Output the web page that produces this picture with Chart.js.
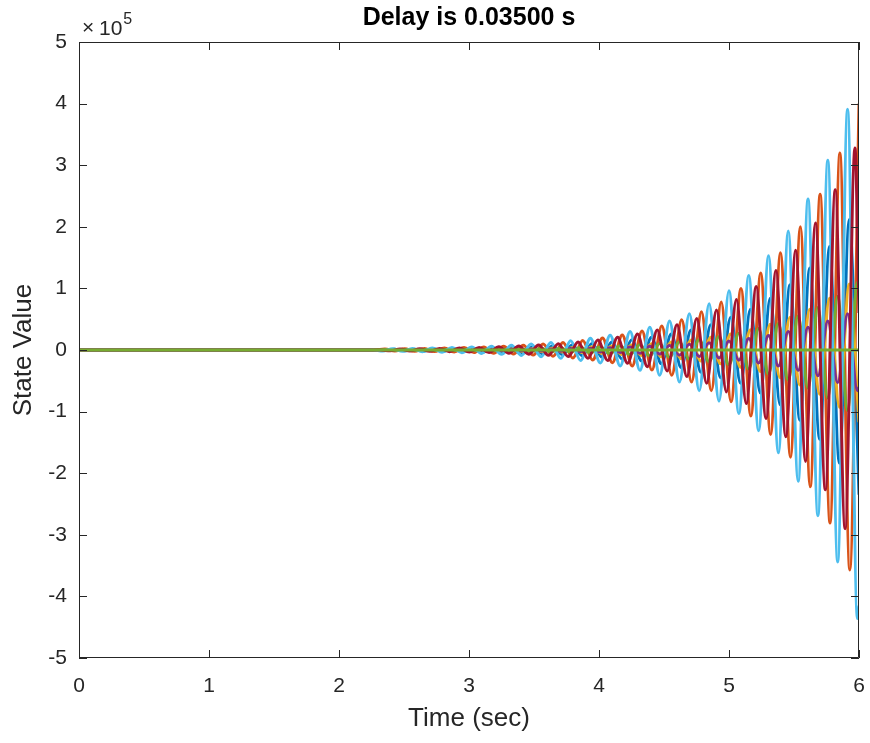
<!DOCTYPE html>
<html>
<head>
<meta charset="utf-8">
<script src="https://cdn.jsdelivr.net/npm/chart.js@4.4.1/dist/chart.umd.min.js"></script>
<style>
  html, body { margin: 0; padding: 0; background: #fff; }
</style>
</head>
<body>
<canvas id="stateChart" width="870" height="743"></canvas>
<script>
// values are in units of 1e5 (axis shows x10^5)
// extrema times, one time list per phase group
const tA = [0, 2.261, 2.337, 2.413, 2.489, 2.565, 2.641, 2.717, 2.793, 2.869, 2.945, 3.021, 3.097, 3.173, 3.250, 3.326, 3.402, 3.478, 3.554, 3.630, 3.706, 3.782, 3.858, 3.934, 4.010, 4.086, 4.163, 4.239, 4.315, 4.391, 4.467, 4.543, 4.619, 4.695, 4.771, 4.847, 4.923, 5.000, 5.076, 5.152, 5.228, 5.304, 5.380, 5.456, 5.532, 5.608, 5.684, 5.760, 5.836, 5.912, 5.988, 6.0];
const tB = [0, 2.274, 2.350, 2.426, 2.502, 2.578, 2.654, 2.730, 2.806, 2.882, 2.958, 3.034, 3.110, 3.186, 3.263, 3.339, 3.415, 3.491, 3.567, 3.643, 3.719, 3.795, 3.871, 3.947, 4.023, 4.099, 4.176, 4.252, 4.328, 4.404, 4.480, 4.556, 4.632, 4.708, 4.784, 4.860, 4.936, 5.013, 5.089, 5.165, 5.241, 5.317, 5.393, 5.469, 5.545, 5.621, 5.697, 5.773, 5.849, 5.925, 6.0];
const tR = [0, 2.318, 2.394, 2.470, 2.546, 2.622, 2.698, 2.774, 2.850, 2.926, 3.002, 3.078, 3.154, 3.230, 3.307, 3.383, 3.459, 3.535, 3.611, 3.687, 3.763, 3.839, 3.915, 3.991, 4.067, 4.143, 4.220, 4.296, 4.372, 4.448, 4.524, 4.600, 4.676, 4.752, 4.828, 4.904, 4.980, 5.057, 5.133, 5.209, 5.285, 5.361, 5.437, 5.513, 5.589, 5.665, 5.741, 5.817, 5.893, 5.969, 6.0];
const tO = [0, 2.277, 2.353, 2.429, 2.505, 2.581, 2.657, 2.733, 2.810, 2.886, 2.962, 3.038, 3.114, 3.190, 3.266, 3.342, 3.418, 3.494, 3.570, 3.646, 3.723, 3.799, 3.875, 3.951, 4.027, 4.103, 4.179, 4.255, 4.331, 4.407, 4.483, 4.560, 4.636, 4.712, 4.788, 4.864, 4.940, 5.016, 5.092, 5.168, 5.244, 5.320, 5.396, 5.473, 5.549, 5.625, 5.701, 5.777, 5.853, 5.929, 6.0];
const tFlat = [0, 6];

const lightBlue = [0, 0, -0.017, 0.02, -0.022, 0.025, -0.028, 0.031, -0.035, 0.04, -0.044, 0.05, -0.056, 0.062, -0.07, 0.078, -0.088, 0.097, -0.11, 0.12, -0.135, 0.15, -0.17, 0.19, -0.21, 0.24, -0.26, 0.30, -0.33, 0.37, -0.41, 0.47, -0.52, 0.59, -0.66, 0.75, -0.83, 0.96, -1.03, 1.21, -1.31, 1.53, -1.67, 1.93, -2.13, 2.45, -2.69, 3.08, -3.44, 3.91, -4.36, -4.15];
const purple = [0, 0, -0.0026, 0.003, -0.0033, 0.0037, -0.0042, 0.0047, -0.0052, 0.006, -0.0066, 0.0075, -0.0083, 0.0095, -0.0105, 0.012, -0.013, 0.015, -0.0165, 0.018, -0.021, 0.023, -0.026, 0.029, -0.033, 0.037, -0.041, 0.047, -0.052, 0.059, -0.066, 0.074, -0.083, 0.093, -0.104, 0.117, -0.13, 0.147, -0.165, 0.185, -0.21, 0.235, -0.26, 0.30, -0.33, 0.37, -0.42, 0.47, -0.53, 0.59, -0.66, -0.6];
const green = [0, 0, 0.0045, -0.005, 0.0055, -0.006, 0.007, -0.0075, 0.0085, -0.0095, 0.011, -0.012, 0.013, -0.015, 0.017, -0.019, 0.021, -0.024, 0.027, -0.03, 0.034, -0.038, 0.043, -0.048, 0.054, -0.06, 0.068, -0.076, 0.085, -0.095, 0.107, -0.12, 0.135, -0.152, 0.17, -0.19, 0.215, -0.24, 0.27, -0.31, 0.35, -0.39, 0.43, -0.49, 0.55, -0.62, 0.69, -0.78, 0.87, -0.98, 1.1, 1.05];
const blue = [0, 0, -0.009, 0.011, -0.012, 0.014, -0.015, 0.017, -0.019, 0.022, -0.024, 0.027, -0.031, 0.034, -0.038, 0.043, -0.048, 0.053, -0.06, 0.066, -0.074, 0.083, -0.093, 0.105, -0.115, 0.13, -0.145, 0.165, -0.18, 0.205, -0.225, 0.26, -0.285, 0.325, -0.36, 0.41, -0.45, 0.53, -0.54, 0.66, -0.70, 0.84, -0.89, 1.06, -1.14, 1.33, -1.45, 1.68, -1.84, 2.12, -2.35];
const yellow = [0, 0, -0.0045, 0.005, -0.0057, 0.0065, -0.0072, 0.008, -0.009, 0.010, -0.0115, 0.013, -0.0145, 0.016, -0.018, 0.021, -0.023, 0.026, -0.029, 0.033, -0.036, 0.041, -0.045, 0.052, -0.057, 0.065, -0.072, 0.082, -0.09, 0.103, -0.113, 0.13, -0.143, 0.163, -0.18, 0.205, -0.225, 0.26, -0.28, 0.33, -0.35, 0.42, -0.45, 0.53, -0.57, 0.66, -0.72, 0.84, -0.93, 1.07, -1.17];
const darkRed = [0, 0, -0.013, 0.016, -0.017, 0.02, -0.021, 0.026, -0.027, 0.033, -0.034, 0.041, -0.042, 0.052, -0.053, 0.065, -0.067, 0.082, -0.085, 0.103, -0.107, 0.13, -0.135, 0.163, -0.17, 0.205, -0.215, 0.26, -0.27, 0.325, -0.34, 0.41, -0.43, 0.51, -0.54, 0.65, -0.68, 0.82, -0.87, 1.03, -1.11, 1.29, -1.41, 1.62, -1.81, 2.06, -2.27, 2.6, -2.9, 3.28, 0.6];
const orange = [0, 0, 0.015, -0.016, 0.02, -0.021, 0.025, -0.026, 0.031, -0.033, 0.039, -0.041, 0.049, -0.052, 0.062, -0.065, 0.078, -0.082, 0.098, -0.103, 0.123, -0.13, 0.155, -0.163, 0.195, -0.205, 0.245, -0.26, 0.31, -0.325, 0.39, -0.41, 0.49, -0.52, 0.62, -0.66, 0.78, -0.84, 1.0, -1.07, 1.25, -1.37, 1.58, -1.74, 2.0, -2.22, 2.53, -2.81, 3.2, -3.57, 4.0];
const flat = [0, 0];

const xTicks = [0, 1, 2, 3, 4, 5, 6];
const yTicks = [-5, -4, -3, -2, -1, 0, 1, 2, 3, 4, 5];

const FONT = "'Liberation Sans', Arial, Helvetica, sans-serif";
const AXIS_COLOR = '#262626';

function toPoints(ts, vs) {
    return ts.map((t, i) => ({ x: t, y: vs[i] }));
}

function series(ts, vs, color) {
    return {
        data: toPoints(ts, vs),
        borderColor: color,
        borderWidth: 3,
        pointRadius: 0,
        fill: false,
        cubicInterpolationMode: 'monotone',
        borderJoinStyle: 'round'
    };
}

// box + inward ticks + exponent label, MATLAB style
const matlabAxes = {
    id: 'matlabAxes',
    afterDatasetsDraw(chart) {
        const { ctx, chartArea: a, scales: { x, y } } = chart;
        ctx.save();
        ctx.strokeStyle = AXIS_COLOR;
        ctx.lineWidth = 1;
        ctx.beginPath();
        ctx.rect(a.left + 0.5, a.top + 0.5, a.right - a.left - 1, a.bottom - a.top - 1);
        xTicks.forEach(v => {
            const px = Math.round(x.getPixelForValue(v)) + 0.5;
            ctx.moveTo(px, a.bottom); ctx.lineTo(px, a.bottom - 8);
            ctx.moveTo(px, a.top); ctx.lineTo(px, a.top + 8);
        });
        yTicks.forEach(v => {
            const py = Math.round(y.getPixelForValue(v)) + 0.5;
            ctx.moveTo(a.left, py); ctx.lineTo(a.left + 8, py);
            ctx.moveTo(a.right, py); ctx.lineTo(a.right - 8, py);
        });
        ctx.stroke();

        ctx.fillStyle = AXIS_COLOR;
        ctx.textBaseline = 'alphabetic';
        ctx.textAlign = 'left';
        ctx.font = '21px ' + FONT;
        ctx.fillText('\u00d7', a.left + 3, a.top - 8);
        ctx.fillText('10', a.left + 20, a.top - 7);
        const w = ctx.measureText('10').width;
        ctx.font = '16px ' + FONT;
        ctx.fillText('5', a.left + 21 + w, a.top - 18);
        ctx.restore();
    }
};

new Chart(document.getElementById('stateChart'), {
    type: 'line',
    data: {
        // first dataset is drawn on top
        datasets: [
            series(tFlat, flat, '#77AC30'),
            series(tR, darkRed, '#A2142F'),
            series(tA, lightBlue, '#4DBEEE'),
            series(tA, green, '#77AC30'),
            series(tA, purple, '#7E2F8E'),
            series(tB, yellow, '#EDB120'),
            series(tO, orange, '#D95319'),
            series(tB, blue, '#0072BD')
        ]
    },
    options: {
        responsive: false,
        devicePixelRatio: 1,
        animation: false,
        layout: { padding: { left: 0, right: 11, top: 0, bottom: 0 } },
        plugins: {
            legend: { display: false },
            tooltip: { enabled: false },
            title: {
                display: true,
                fullSize: false,
                text: 'Delay is 0.03500 s',
                color: '#000',
                font: { family: FONT, size: 25, weight: 'bold', lineHeight: 1.2 },
                padding: { top: 3, bottom: 9 }
            }
        },
        scales: {
            x: {
                type: 'linear',
                min: 0,
                max: 6,
                grid: { display: false, drawTicks: false },
                border: { display: false },
                afterBuildTicks: s => { s.ticks = xTicks.map(v => ({ value: v })); },
                afterFit: s => { s.height = 85; s.paddingLeft = 0; s.paddingRight = 0; },
                ticks: {
                    color: AXIS_COLOR,
                    font: { family: FONT, size: 21 },
                    padding: 16,
                    maxRotation: 0
                },
                title: {
                    display: true,
                    text: 'Time (sec)',
                    color: AXIS_COLOR,
                    font: { family: FONT, size: 26 },
                    padding: { top: 0, bottom: 9 }
                }
            },
            y: {
                type: 'linear',
                min: -5,
                max: 5,
                grid: { display: false, drawTicks: false },
                border: { display: false },
                afterBuildTicks: s => { s.ticks = yTicks.map(v => ({ value: v })); },
                afterFit: s => { s.width = 79; s.paddingTop = 0; s.paddingBottom = 0; },
                ticks: {
                    color: AXIS_COLOR,
                    font: { family: FONT, size: 21 },
                    padding: 12
                },
                title: {
                    display: true,
                    text: 'State Value',
                    color: AXIS_COLOR,
                    font: { family: FONT, size: 26 },
                    padding: { top: 8, bottom: 0 }
                }
            }
        }
    },
    plugins: [matlabAxes]
});
</script>
</body>
</html>
